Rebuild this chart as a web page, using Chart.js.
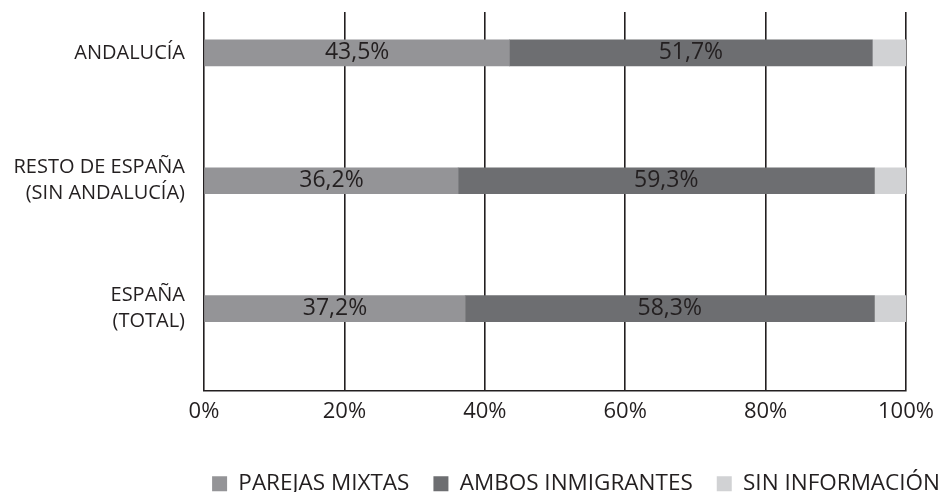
<!DOCTYPE html>
<html>
<head>
<meta charset="utf-8">
<script src="https://cdn.jsdelivr.net/npm/chart.js@4"></script>
<style>
  html, body { margin: 0; padding: 0; background: #ffffff; }
  #wrap { width: 944px; height: 492px; }
</style>
</head>
<body>
<div id="wrap"><canvas id="c" width="944" height="492"></canvas></div>
<script>
const categories = [["ANDALUCÍA"], ["RESTO DE ESPAÑA", "(SIN ANDALUCÍA)"], ["ESPAÑA", "(TOTAL)"]];
const seriesNames = ["PAREJAS MIXTAS", "AMBOS INMIGRANTES", "SIN INFORMACIÓN"];
const parejasMixtas = [43.5, 36.2, 37.2];
const ambosInmigrantes = [51.7, 59.3, 58.3];
const sinInformacion = [4.8, 4.5, 4.5];
const xTickValues = [0, 20, 40, 60, 80, 100];

const FONT = "'Open Sans', sans-serif";
const INK = '#231f20';

const toPoints = arr => arr.map((v, i) => ({ x: v, y: i }));

const labelPlugin = {
  id: 'barLabels',
  afterDatasetsDraw(chart) {
    const ctx = chart.ctx;
    ctx.save();
    ctx.font = '23px ' + FONT;
    ctx.fillStyle = INK;
    ctx.textAlign = 'center';
    ctx.textBaseline = 'middle';
    [0, 1].forEach(di => {
      const meta = chart.getDatasetMeta(di);
      meta.data.forEach((bar, i) => {
        const v = chart.data.datasets[di].data[i].x;
        const cx = (bar.x + bar.base) / 2;
        ctx.fillText(v.toFixed(1).replace('.', ',') + '%', cx, bar.y);
      });
    });
    ctx.restore();
  }
};

new Chart(document.getElementById('c'), {
  type: 'bar',
  data: {
    datasets: [
      { label: seriesNames[0], data: toPoints(parejasMixtas), backgroundColor: '#949497', stack: 's' },
      { label: seriesNames[1], data: toPoints(ambosInmigrantes), backgroundColor: '#6d6e71', stack: 's' },
      { label: seriesNames[2], data: toPoints(sinInformacion), backgroundColor: '#d1d2d4', stack: 's' }
    ]
  },
  options: {
    indexAxis: 'y',
    responsive: false,
    animation: false,
    barThickness: 26,
    layout: { padding: { left: 0, right: -20, top: 12, bottom: -13 } },
    scales: {
      x: {
        type: 'linear',
        stacked: true,
        min: 0, max: 100,
        z: 1,
        afterBuildTicks: s => { s.ticks = xTickValues.map(v => ({ value: v })); },
        afterFit: s => { s.height = 58; s.paddingRight = 38; s.paddingLeft = 0; },
        grid: { color: INK, lineWidth: 1.6, drawTicks: false },
        border: { color: INK, width: 1.6 },
        ticks: { padding: 8, color: INK, font: { family: FONT, size: 22 }, callback: v => v + '%' }
      },
      y: {
        type: 'linear',
        reverse: true,
        offset: false,
        min: -0.32, max: 2.64,
        afterBuildTicks: s => { s.ticks = categories.map((c, i) => ({ value: i })); },
        afterFit: s => { s.width = 204; s.paddingTop = 0; s.paddingBottom = 0; },
        grid: { display: false, drawTicks: false, offset: false },
        border: { display: false },
        ticks: {
          padding: 19, color: INK,
          font: { family: FONT, size: 20, lineHeight: 1.3 },
          callback: v => categories[v]
        }
      }
    },
    plugins: {
      legend: {
        position: 'bottom',
        align: 'end',
        labels: {
          boxWidth: 15, boxHeight: 15, padding: 24, color: INK,
          font: { family: FONT, size: 22.5 }
        }
      },
      tooltip: { enabled: false }
    }
  },
  plugins: [labelPlugin]
});
</script>
</body>
</html>
